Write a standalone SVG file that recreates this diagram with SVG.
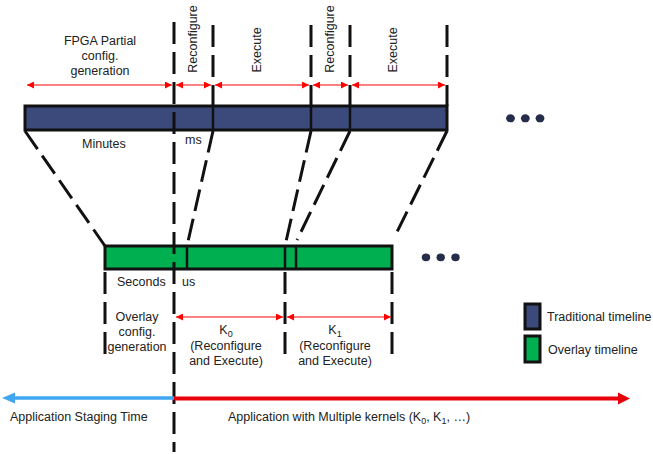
<svg xmlns="http://www.w3.org/2000/svg" width="653" height="454" viewBox="0 0 653 454">
<defs>
<style>
text{font-family:"Liberation Sans",Arial,sans-serif;font-size:12.5px;fill:#222}
.dash{stroke:#111;stroke-width:3;stroke-dasharray:22 8;fill:none}
.solid{stroke:#111;stroke-width:2.5;fill:none}
.ra{stroke:#f00;stroke-width:1;fill:none;marker-start:url(#rh);marker-end:url(#rh)}
.dot{fill:#262d4a}
</style>
<marker id="rh" viewBox="0 0 8 8" refX="8" refY="4" markerWidth="7" markerHeight="7" markerUnits="userSpaceOnUse" orient="auto-start-reverse">
<path d="M0,0 L8,4 L0,8 z" fill="#f00"/>
</marker>
</defs>
<rect width="653" height="454" fill="#fff"/>

<g id="traditional-bar">
<rect x="25" y="106" width="422" height="24" fill="#3b4a7b" stroke="#111" stroke-width="3"/>
<line class="solid" x1="213" y1="106" x2="213" y2="130"/>
<line class="solid" x1="311" y1="106" x2="311" y2="130"/>
<line class="solid" x1="350" y1="106" x2="350" y2="130"/>
</g>

<g id="overlay-bar">
<rect x="105" y="246" width="287" height="23" fill="#00b050" stroke="#111" stroke-width="3"/>
<line class="solid" x1="187" y1="246" x2="187" y2="269"/>
<line class="solid" x1="285" y1="246" x2="285" y2="269"/>
<line class="solid" x1="296" y1="246" x2="296" y2="269"/>
</g>

<g id="connectors">
<line class="dash" x1="213" y1="25" x2="213" y2="106"/>
<line class="dash" x1="311" y1="25" x2="311" y2="106"/>
<line class="dash" x1="350" y1="25" x2="350" y2="106"/>
<line class="dash" x1="447" y1="25" x2="447" y2="106"/>
<line class="dash" x1="174" y1="22" x2="174" y2="452"/>
<line class="dash" x1="25" y1="131" x2="105" y2="246"/>
<line class="dash" x1="213" y1="131" x2="187" y2="246"/>
<line class="dash" x1="311" y1="131" x2="285" y2="246"/>
<line class="dash" x1="350" y1="131" x2="297" y2="240"/>
<line class="dash" x1="447" y1="131" x2="394" y2="238"/>
<line class="dash" x1="105" y1="272" x2="105" y2="358"/>
<line class="dash" x1="285" y1="272" x2="285" y2="358"/>
<line class="dash" x1="392" y1="272" x2="392" y2="358"/>
<line class="ra" x1="27" y1="85" x2="172" y2="85"/>
<line class="ra" x1="176" y1="85" x2="211" y2="85"/>
<line class="ra" x1="215" y1="85" x2="309" y2="85"/>
<line class="ra" x1="313" y1="85" x2="348" y2="85"/>
<line class="ra" x1="352" y1="85" x2="445" y2="85"/>
<line class="ra" x1="176" y1="317" x2="283" y2="317"/>
<line class="ra" x1="287" y1="317" x2="391" y2="317"/>
<line x1="174" y1="398" x2="14" y2="398" stroke="#41a6f0" stroke-width="3.5"/>
<polygon points="2,398 15,392.5 15,403.5" fill="#41a6f0"/>
<line x1="174" y1="398.5" x2="619" y2="398.5" stroke="#e8000b" stroke-width="4"/>
<polygon points="630,398.5 618,392.5 618,404.5" fill="#e8000b"/>
</g>

<g id="top-labels">
<text x="100" y="45" text-anchor="middle">FPGA Partial</text>
<text x="100" y="60" text-anchor="middle">config.</text>
<text x="100" y="75" text-anchor="middle">generation</text>
<text transform="translate(197,39) rotate(-90)" text-anchor="middle">Reconfigure</text>
<text transform="translate(260.5,50) rotate(-90)" text-anchor="middle">Execute</text>
<text transform="translate(334,39) rotate(-90)" text-anchor="middle">Reconfigure</text>
<text transform="translate(397,50) rotate(-90)" text-anchor="middle">Execute</text>
<text x="82" y="148">Minutes</text>
<text x="185" y="144">ms</text>
<text x="117" y="286">Seconds</text>
<text x="182" y="286">us</text>
</g>

<g id="overlay-labels">
<text x="137" y="321" text-anchor="middle">Overlay</text>
<text x="137" y="336" text-anchor="middle">config.</text>
<text x="137" y="351" text-anchor="middle">generation</text>
<text x="226" y="334" text-anchor="middle">K<tspan font-size="9" dy="3">0</tspan></text>
<text x="226" y="350" text-anchor="middle">(Reconfigure</text>
<text x="226" y="365" text-anchor="middle">and Execute)</text>
<text x="335" y="334" text-anchor="middle">K<tspan font-size="9" dy="3">1</tspan></text>
<text x="335" y="350" text-anchor="middle">(Reconfigure</text>
<text x="335" y="365" text-anchor="middle">and Execute)</text>
</g>

<g id="bottom-labels">
<text x="10" y="421">Application Staging Time</text>
<text x="228" y="421">Application with Multiple kernels (K<tspan font-size="9" dy="3">0</tspan><tspan dy="-3">, K</tspan><tspan font-size="9" dy="3">1</tspan><tspan dy="-3">, …)</tspan></text>
</g>

<g id="ellipsis-top">
<ellipse class="dot" cx="510.5" cy="118.3" rx="4.4" ry="4"/>
<ellipse class="dot" cx="525.3" cy="118.3" rx="4.4" ry="4"/>
<ellipse class="dot" cx="540" cy="118.3" rx="4.4" ry="4"/>
</g>
<g id="ellipsis-bottom">
<ellipse class="dot" cx="426" cy="257.3" rx="4.2" ry="3.9"/>
<ellipse class="dot" cx="440.7" cy="257.3" rx="4.2" ry="3.9"/>
<ellipse class="dot" cx="455.5" cy="257.3" rx="4.2" ry="3.9"/>
</g>

<g id="legend">
<rect x="525" y="304" width="15" height="25" fill="#3b4a7b" stroke="#111" stroke-width="3"/>
<text x="547" y="321">Traditional timeline</text>
<rect x="525" y="336" width="15" height="26" fill="#00b050" stroke="#111" stroke-width="3"/>
<text x="548" y="354">Overlay timeline</text>
</g>
</svg>
